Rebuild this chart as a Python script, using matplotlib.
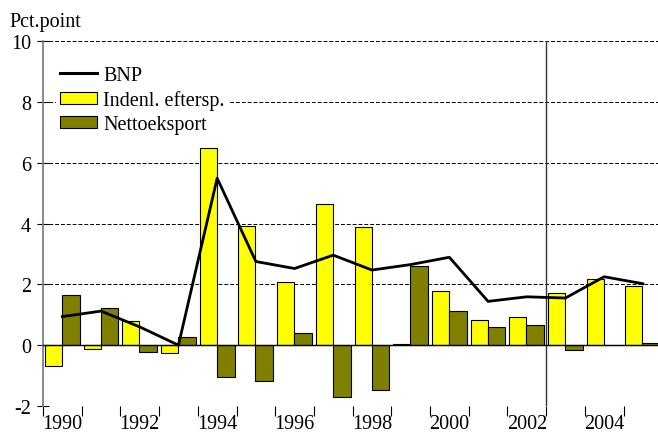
import matplotlib
matplotlib.use("Agg")
import matplotlib.pyplot as plt
import numpy as np
from matplotlib.lines import Line2D
from matplotlib.patches import Patch

plt.rcParams["font.family"] = ["Liberation Serif", "DejaVu Serif"]

years = list(range(1990, 2006))
bnp = [0.94, 1.12, 0.6, 0.0, 5.49, 2.75, 2.52, 2.96, 2.47, 2.65, 2.89, 1.44, 1.59, 1.55, 2.25, 2.02]
indenl = [-0.70, -0.13, 0.80, -0.26, 6.49, 3.92, 2.09, 4.64, 3.90, 0.05, 1.78, 0.83, 0.94, 1.70, 2.19, 1.95]
netto = [1.64, 1.21, -0.22, 0.26, -1.05, -1.17, 0.41, -1.70, -1.47, 2.59, 1.11, 0.60, 0.65, -0.16, 0.02, 0.08]
tick_labels = [str(y) for y in years[::2]]

YELLOW = "#ffff00"
OLIVE = "#808000"
FS = 14.5

W, H = 658, 435
fig = plt.figure(figsize=(W / 100, H / 100), dpi=100)
ax = fig.add_axes([43 / W, (H - 407) / H, 615 / W, (407 - 42) / H])

idx = np.arange(len(years))
ax.bar(idx + 0.05, indenl, width=0.44, align="edge", color=YELLOW,
       edgecolor="black", linewidth=0.8, zorder=3)
ax.bar(idx + 0.49, netto, width=0.46, align="edge", color=OLIVE,
       edgecolor="black", linewidth=0.8, zorder=3)
ax.plot(idx + 0.5, bnp, color="black", linewidth=2.0, zorder=4)

ax.axhline(0, color="black", linewidth=1.0, zorder=3.5)
for v in [-2, 2, 4, 6, 8, 10]:
    ax.axhline(v, color="black", linewidth=0.7, linestyle=(0, (4, 2)), zorder=1)
ax.axvline(13, color="#333333", linewidth=1.0, zorder=2)

ax.set_xlim(0, 615 / 38.7)
ax.set_ylim(-2, 10)
ax.set_yticks(range(-2, 11, 2))
ax.set_yticklabels([str(v) for v in range(-2, 11, 2)], fontsize=FS)
ax.set_xticks(np.arange(0, len(years), 1), minor=True)
ax.set_xticks(idx[::2] + 0.5)
ax.set_xticklabels(tick_labels, fontsize=FS)
ax.tick_params(axis="x", which="major", length=0, pad=6)
ax.tick_params(axis="x", which="minor", length=7, width=0.8, direction="out")
ax.tick_params(axis="y", length=9, width=0.8, direction="inout", pad=4)

for s in ["top", "right", "bottom"]:
    ax.spines[s].set_visible(False)
ax.spines["left"].set_color("#808080")
ax.spines["left"].set_linewidth(1.3)

fig.text(9 / W, 1 - 27 / H, "Pct.point", fontsize=FS, va="baseline", ha="left")

handles = [
    Line2D([0], [0], color="black", linewidth=2.2),
    Patch(facecolor=YELLOW, edgecolor="black", linewidth=0.8),
    Patch(facecolor=OLIVE, edgecolor="black", linewidth=0.8),
]
leg = ax.legend(handles, ["BNP", "Indenl. eftersp.", "Nettoeksport"],
                loc="upper left", bbox_to_anchor=(0.021, 0.942), fontsize=FS,
                frameon=True, facecolor="white", edgecolor="none", framealpha=1,
                fancybox=False, handlelength=1.85, handleheight=0.6,
                handletextpad=0.3, labelspacing=0.25, borderpad=0.2,
                borderaxespad=0)
leg.set_zorder(5)

fig.savefig("out.png", dpi=100)
